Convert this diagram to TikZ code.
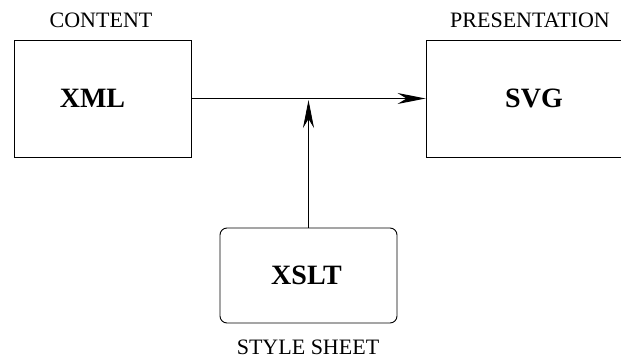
\documentclass[tikz,border=0pt]{standalone}
\usepackage{fontspec}
\setmainfont{Liberation Serif}
\usetikzlibrary{arrows.meta}
\begin{document}
\begin{tikzpicture}[x=1pt,y=-1pt,
  block/.style={draw, line width=0.9pt, inner sep=0pt,
    font=\fontsize{28}{32}\selectfont\bfseries},
  caption/.style={inner sep=0pt, font=\fontsize{22}{26}\selectfont},
  flow/.style={line width=0.9pt, -{Stealth[length=28pt, width=11pt, inset=9pt]}}]
  \useasboundingbox (0,0) rectangle (621,358);
  \clip (0,0) rectangle (621,358);
  % the three stages
  \node[block, minimum width=177pt, minimum height=117pt] (xml) at (102.5,98.5) {\hspace*{-20pt}XML};
  \node[block, minimum width=216pt, minimum height=117pt] (svg) at (534,98.5) {SVG};
  \node[block, rounded corners=7pt, minimum width=177pt, minimum height=95pt] (xslt) at (308.5,275.5) {\hspace*{-4pt}XSLT};
  % captions
  \node[caption] (content) at (101,20.5) {CONTENT};
  \node[caption] (presentation) at (530,20.5) {PRESENTATION};
  \node[caption] (stylesheet) at (308,347) {STYLE SHEET};
  % connectors
  \draw[flow] (xml.east) -- (svg.west);
  \coordinate (join) at (xslt.north |- xml.east);
  \draw[flow, shorten >=1.5pt] (xslt.north) -- (join);
\end{tikzpicture}
\end{document}
